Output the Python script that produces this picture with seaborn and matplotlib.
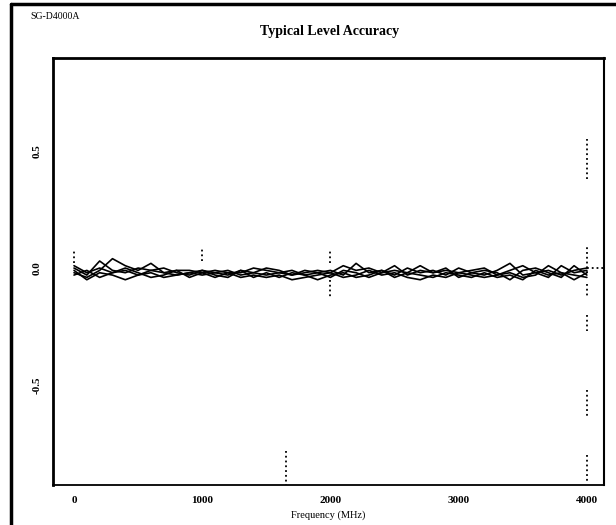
import numpy as np
import pandas as pd
import matplotlib
matplotlib.use("Agg")
import matplotlib.pyplot as plt
import seaborn as sns
from matplotlib.lines import Line2D

freq = list(range(0, 4001, 100))

s1 = [0.00, -0.03, 0.03, -0.01, -0.02, 0.00, -0.01, -0.02, -0.01, -0.01, -0.02, -0.01, -0.02, -0.02, 0.00, -0.01, -0.02, -0.03, -0.02, -0.01, -0.02, 0.01, -0.01, 0.00, -0.02, -0.01, -0.02, 0.01, -0.02, -0.01, -0.02, -0.01, 0.00, -0.03, -0.01, 0.01, -0.02, -0.01, -0.03, -0.01, 0.00]
s2 = [-0.02, -0.04, -0.01, 0.04, 0.01, -0.01, 0.02, -0.02, -0.03, -0.02, -0.01, -0.03, -0.04, -0.01, -0.02, -0.03, -0.02, -0.01, -0.03, -0.02, -0.01, -0.03, 0.02, -0.02, -0.01, -0.03, 0.00, -0.02, -0.01, -0.03, 0.00, -0.02, -0.03, -0.01, 0.02, -0.03, -0.02, -0.04, 0.01, -0.02, -0.01]
s3 = [-0.01, -0.05, -0.02, -0.03, -0.05, -0.03, -0.02, -0.04, -0.03, -0.02, -0.03, -0.02, -0.03, -0.01, -0.04, -0.02, -0.04, -0.02, -0.03, -0.05, -0.03, -0.02, -0.04, -0.03, -0.01, -0.04, -0.02, -0.03, -0.04, -0.02, -0.03, -0.04, -0.02, -0.04, -0.03, -0.05, -0.01, -0.03, -0.02, -0.05, -0.02]
s4 = [0.01, -0.02, 0.00, -0.02, -0.01, -0.03, -0.01, 0.00, -0.02, -0.03, -0.01, -0.02, -0.01, -0.03, -0.02, 0.00, -0.01, -0.03, -0.01, -0.02, -0.04, -0.01, -0.02, -0.04, -0.02, 0.01, -0.03, -0.01, -0.02, 0.00, -0.04, -0.02, -0.01, -0.02, -0.05, -0.01, 0.00, -0.02, -0.04, 0.01, -0.03]
s5 = [-0.03, -0.01, -0.04, -0.02, 0.00, -0.02, -0.04, -0.03, -0.01, -0.04, -0.02, -0.04, -0.02, -0.04, -0.03, -0.04, -0.03, -0.05, -0.04, -0.03, -0.02, -0.04, -0.03, -0.01, -0.03, -0.02, -0.04, -0.05, -0.03, -0.04, -0.02, -0.03, -0.04, -0.03, -0.02, -0.04, -0.03, 0.01, -0.02, -0.03, -0.04]

series_names = ["unit 1", "unit 2", "unit 3", "unit 4", "unit 5"]

x_ticks = [0, 1000, 2000, 3000, 4000]
x_tick_labels = ["0", "1000", "2000", "3000", "4000"]
y_ticks = [-0.5, 0.0, 0.5]
y_tick_labels = ["-0.5", "0.0", "0.5"]

# dotted vertical marks (x, y_start, y_end) seen in the scan
dot_x = [0, 1000, 2000, 2000, 1650, 4000, 4000, 4000, 4000, 4000, 4000]
dot_y0 = [0.02, 0.03, -0.05, 0.02, -0.78, 0.38, -0.02, -0.07, -0.20, -0.52, -0.80]
dot_y1 = [0.08, 0.09, -0.13, 0.08, -0.93, 0.55, 0.10, -0.12, -0.27, -0.63, -0.92]

rows = []
for name, vals in zip(series_names, [s1, s2, s3, s4, s5]):
    for f, v in zip(freq, vals):
        rows.append({"freq": f, "level": v, "series": name})
df = pd.DataFrame(rows)

sns.set_theme(style="white")
plt.rcParams["font.family"] = ["Liberation Serif", "DejaVu Serif"]
plt.rcParams["text.color"] = "black"
plt.rcParams["xtick.color"] = "black"
plt.rcParams["ytick.color"] = "black"
plt.rcParams["axes.labelcolor"] = "black"

fig = plt.figure(figsize=(6.16, 5.25), dpi=100)
ax = fig.add_axes([0.086, 0.076, 0.894, 0.8135])

sns.lineplot(data=df, x="freq", y="level", hue="series",
             palette=["black"] * 5, linewidth=1.2, legend=False, ax=ax)

ax.vlines(dot_x, dot_y0, dot_y1, colors="black", linestyles=":", linewidth=1.3)
ax.hlines([0.0], [4000], [4130], colors="black", linestyles=":", linewidth=1.3)

ax.set_xlim(-164, 4131)
ax.set_ylim(-0.927, 0.897)
ax.set_xticks(x_ticks)
ax.set_xticklabels(x_tick_labels, fontsize=8, fontweight="bold")
ax.set_yticks(y_ticks)
ax.set_yticklabels(y_tick_labels, fontsize=8, rotation=90, va="center", fontweight="bold")
ax.tick_params(axis="both", length=0, pad=8)
ax.set_xlabel("Frequency (MHz)", fontsize=7.5, labelpad=4)
ax.set_ylabel("")

for side, lw in [("left", 2.0), ("top", 2.0), ("bottom", 1.3), ("right", 1.5)]:
    ax.spines[side].set_visible(True)
    ax.spines[side].set_color("black")
    ax.spines[side].set_linewidth(lw)

fig.text(0.535, 0.94, "Typical Level Accuracy", ha="center", va="center",
         fontsize=10, fontweight="bold")
fig.text(0.05, 0.968, "SG-D4000A", ha="left", va="center", fontsize=7)

fig.add_artist(Line2D([0.018, 0.018], [0.0, 0.993], transform=fig.transFigure,
                      color="black", linewidth=2.5))
fig.add_artist(Line2D([0.018, 1.0], [0.993, 0.993], transform=fig.transFigure,
                      color="black", linewidth=2.5))

fig.savefig("out.png", dpi=100)
